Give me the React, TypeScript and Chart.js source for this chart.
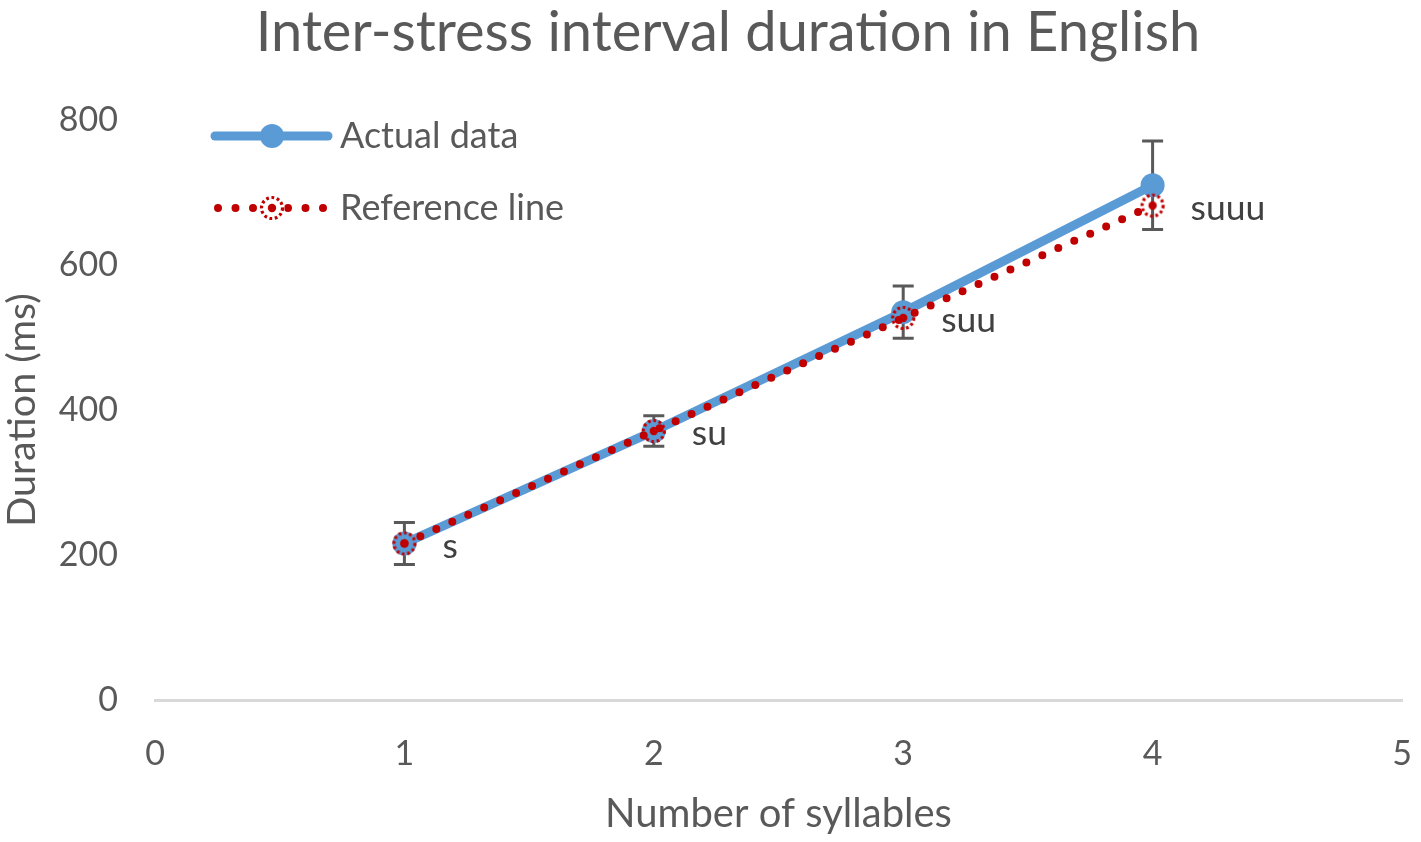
import React, { useEffect, useRef } from 'react';
import { Chart, registerables } from 'chart.js';

Chart.register(...registerables);

// syllables per interval
const syllables = [1, 2, 3, 4];
const actualData = [216, 371, 535, 710];
const referenceData = [216, 371, 527, 682];
const errPlus = [29, 21, 36, 61];
const errMinus = [29, 21, 36, 61];
const pointLabels = ['s', 'su', 'suu', 'suuu'];
const legendLabels = ['Actual data', 'Reference line'];

const FONT = 'Lato';
const TEXT = '#595959';
const BLUE = '#5B9BD5';
const RED = '#C00000';

// dotted ring marker for the reference line
const makeRingMarker = () => {
  const c = document.createElement('canvas');
  c.width = 30;
  c.height = 30;
  const g = c.getContext('2d')!;
  g.strokeStyle = RED;
  g.lineWidth = 3.2;
  g.setLineDash([2.8, 2.6]);
  g.beginPath();
  g.arc(15, 15, 10.5, 0, Math.PI * 2);
  g.stroke();
  g.fillStyle = RED;
  g.beginPath();
  g.arc(15, 15, 4.2, 0, Math.PI * 2);
  g.fill();
  return c;
};

const App = () => {
  const chartRef = useRef<HTMLCanvasElement>(null);
  const chartInstance = useRef<Chart | null>(null);

  useEffect(() => {
    if (chartInstance.current) chartInstance.current.destroy();
    const ctx = chartRef.current;
    if (!ctx) return;

    const ring = makeRingMarker();

    const extras = {
      id: 'extras',
      beforeDatasetsDraw(chart: any) {
        // error bars on the actual data
        const c = chart.ctx;
        const xs = chart.scales.x;
        const ys = chart.scales.y;
        c.save();
        c.strokeStyle = '#595959';
        c.lineWidth = 3;
        syllables.forEach((s, i) => {
          const x = xs.getPixelForValue(s);
          const top = ys.getPixelForValue(actualData[i] + errPlus[i]);
          const bot = ys.getPixelForValue(actualData[i] - errMinus[i]);
          c.beginPath();
          c.moveTo(x, top);
          c.lineTo(x, bot);
          c.moveTo(x - 10.5, top);
          c.lineTo(x + 10.5, top);
          c.moveTo(x - 10.5, bot);
          c.lineTo(x + 10.5, bot);
          c.stroke();
        });
        c.restore();
      },
      afterDraw(chart: any) {
        const c = chart.ctx;
        const xs = chart.scales.x;
        const ys = chart.scales.y;
        c.save();
        // title
        c.fillStyle = TEXT;
        c.font = `56px ${FONT}`;
        c.textAlign = 'center';
        c.textBaseline = 'alphabetic';
        c.fillText('Inter-stress interval duration in English', 728, 51);

        // point labels
        c.font = `35.5px ${FONT}`;
        c.textAlign = 'left';
        c.textBaseline = 'middle';
        c.fillStyle = '#404040';
        syllables.forEach((s, i) => {
          const x = xs.getPixelForValue(s);
          const y = ys.getPixelForValue(referenceData[i]);
          c.fillText(pointLabels[i], x + 38, y + 3);
        });

        // legend
        const lx0 = 215;
        const lx1 = 328;
        const ly0 = 136;
        const ly1 = 208;
        c.strokeStyle = BLUE;
        c.lineWidth = 9;
        c.lineCap = 'round';
        c.beginPath();
        c.moveTo(lx0, ly0);
        c.lineTo(lx1, ly0);
        c.stroke();
        c.fillStyle = BLUE;
        c.beginPath();
        c.arc(272, ly0, 12, 0, Math.PI * 2);
        c.fill();

        c.strokeStyle = RED;
        c.lineWidth = 8;
        c.setLineDash([0, 17.5]);
        c.beginPath();
        c.moveTo(lx0 + 3, ly1);
        c.lineTo(lx1, ly1);
        c.stroke();
        c.setLineDash([]);
        c.fillStyle = '#ffffff';
        c.beginPath();
        c.arc(272, ly1, 12.5, 0, Math.PI * 2);
        c.fill();
        c.drawImage(ring, 272 - 15, ly1 - 15);

        c.fillStyle = TEXT;
        c.font = `36px ${FONT}`;
        c.fillText(legendLabels[0], 340, ly0);
        c.fillText(legendLabels[1], 340, ly1);
        c.restore();
      },
    };

    chartInstance.current = new Chart(ctx, {
      type: 'line',
      data: {
        datasets: [
          {
            label: legendLabels[1],
            data: syllables.map((s, i) => ({ x: s, y: referenceData[i] })),
            borderColor: RED,
            borderWidth: 8,
            borderDash: [0, 17.5],
            borderCapStyle: 'round',
            pointStyle: ring,
            pointRadius: 11,
            tension: 0,
          },
          {
            label: legendLabels[0],
            data: syllables.map((s, i) => ({ x: s, y: actualData[i] })),
            borderColor: BLUE,
            backgroundColor: BLUE,
            borderWidth: 9,
            pointRadius: 12,
            pointBorderWidth: 0,
            pointBackgroundColor: BLUE,
            tension: 0,
          },
        ],
      },
      options: {
        responsive: false,
        animation: false,
        layout: { padding: { top: 120, right: 14, left: 0, bottom: 0 } },
        plugins: {
          legend: { display: false },
          title: { display: false },
          tooltip: { enabled: false },
        },
        scales: {
          x: {
            type: 'linear',
            min: 0,
            max: 5,
            afterFit: (s: any) => {
              s.height = 142;
              s.paddingLeft = 0;
              s.paddingRight = 0;
            },
            grid: { display: false, drawTicks: false },
            border: { display: true, color: '#d9d9d9', width: 3 },
            ticks: {
              stepSize: 1,
              padding: 34,
              color: TEXT,
              font: { family: FONT, size: 34 },
            },
            title: {
              display: true,
              text: 'Number of syllables',
              color: TEXT,
              font: { family: FONT, size: 40 },
              padding: { top: 0, bottom: 4 },
            },
          },
          y: {
            min: 0,
            max: 800,
            afterFit: (s: any) => {
              s.width = 155;
            },
            grid: { display: false, drawTicks: false },
            border: { display: false },
            ticks: {
              stepSize: 200,
              padding: 37,
              color: TEXT,
              font: { family: FONT, size: 34 },
            },
            title: {
              display: true,
              text: 'Duration (ms)',
              color: TEXT,
              font: { family: FONT, size: 39.5 },
              padding: { top: -1, bottom: 0 },
            },
          },
        },
      },
      plugins: [extras],
    });

    return () => {
      if (chartInstance.current) {
        chartInstance.current.destroy();
        chartInstance.current = null;
      }
    };
  }, []);

  return (
    <div style={{ position: 'absolute', left: 0, top: 0, width: 1421, height: 842, background: '#fff' }}>
      <canvas ref={chartRef} width={1421} height={842}></canvas>
    </div>
  );
};

export default App;
